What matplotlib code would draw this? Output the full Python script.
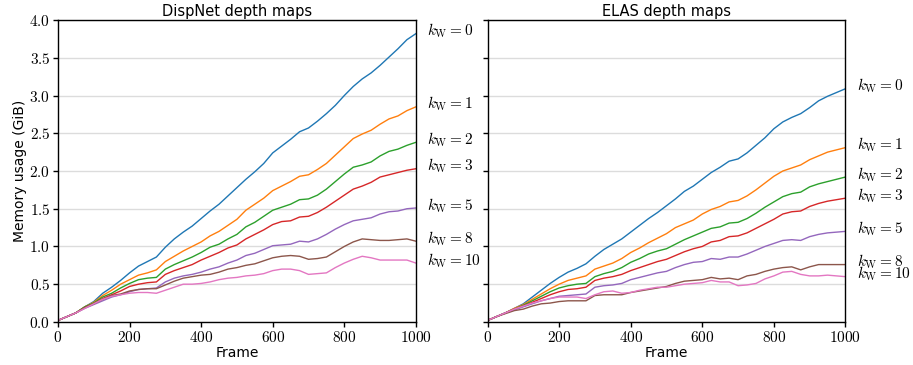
import numpy as np
import matplotlib
matplotlib.use("Agg")
import matplotlib.pyplot as plt
from matplotlib.ticker import FuncFormatter, MultipleLocator

plt.rcParams["font.family"] = ["DejaVu Sans"]
plt.rcParams["mathtext.fontset"] = "cm"

frames = np.arange(0, 1001, 25)
kw_values = [0, 1, 2, 3, 5, 8, 10]
colors = ["#1f77b4", "#ff7f0e", "#2ca02c", "#d62728", "#9467bd", "#8c564b", "#e377c2"]

# Memory usage (GiB) per frame, DispNet depth maps
dispnet_kw0 = [0.02, 0.07, 0.12, 0.20, 0.27, 0.38, 0.46, 0.55, 0.65, 0.74, 0.80, 0.86, 0.99, 1.10, 1.19, 1.27, 1.37, 1.47, 1.56, 1.67, 1.78,
               1.89, 1.99, 2.10, 2.24, 2.33, 2.42, 2.52, 2.57, 2.66, 2.76, 2.87, 3.00, 3.12, 3.22, 3.30, 3.40, 3.51, 3.62, 3.74, 3.82]
dispnet_kw1 = [0.02, 0.07, 0.12, 0.20, 0.26, 0.35, 0.42, 0.50, 0.56, 0.62, 0.65, 0.69, 0.80, 0.87, 0.94, 1.00, 1.06, 1.14, 1.20, 1.28, 1.36,
               1.48, 1.56, 1.64, 1.74, 1.80, 1.86, 1.93, 1.95, 2.02, 2.10, 2.21, 2.32, 2.43, 2.49, 2.54, 2.62, 2.69, 2.73, 2.80, 2.85]
dispnet_kw2 = [0.02, 0.07, 0.12, 0.20, 0.25, 0.33, 0.38, 0.45, 0.51, 0.56, 0.58, 0.59, 0.70, 0.76, 0.81, 0.86, 0.92, 0.99, 1.03, 1.10, 1.16,
               1.26, 1.32, 1.40, 1.48, 1.52, 1.56, 1.62, 1.63, 1.68, 1.76, 1.86, 1.96, 2.05, 2.08, 2.12, 2.20, 2.26, 2.29, 2.34, 2.38]
dispnet_kw3 = [0.02, 0.07, 0.12, 0.19, 0.24, 0.31, 0.36, 0.41, 0.47, 0.50, 0.52, 0.53, 0.63, 0.68, 0.72, 0.76, 0.82, 0.87, 0.92, 0.98, 1.02,
               1.10, 1.16, 1.22, 1.29, 1.33, 1.34, 1.39, 1.40, 1.45, 1.52, 1.60, 1.68, 1.76, 1.80, 1.85, 1.92, 1.95, 1.98, 2.01, 2.03]
dispnet_kw5 = [0.02, 0.07, 0.12, 0.18, 0.23, 0.28, 0.33, 0.36, 0.40, 0.43, 0.44, 0.45, 0.53, 0.58, 0.61, 0.63, 0.66, 0.70, 0.73, 0.78, 0.82,
               0.88, 0.91, 0.96, 1.01, 1.02, 1.03, 1.07, 1.06, 1.10, 1.16, 1.23, 1.29, 1.34, 1.36, 1.38, 1.43, 1.46, 1.47, 1.50, 1.51]
dispnet_kw8 = [0.02, 0.07, 0.12, 0.19, 0.24, 0.30, 0.35, 0.37, 0.41, 0.43, 0.44, 0.44, 0.49, 0.54, 0.58, 0.60, 0.62, 0.63, 0.66, 0.70, 0.72,
               0.75, 0.77, 0.81, 0.85, 0.87, 0.88, 0.87, 0.83, 0.84, 0.86, 0.93, 1.00, 1.06, 1.10, 1.09, 1.08, 1.08, 1.09, 1.10, 1.07]
dispnet_kw10 = [0.02, 0.07, 0.12, 0.18, 0.24, 0.30, 0.34, 0.36, 0.38, 0.39, 0.39, 0.38, 0.42, 0.46, 0.50, 0.50, 0.51, 0.53, 0.56, 0.58, 0.59,
                0.61, 0.62, 0.64, 0.68, 0.70, 0.70, 0.68, 0.63, 0.64, 0.65, 0.72, 0.78, 0.83, 0.87, 0.85, 0.82, 0.82, 0.82, 0.82, 0.78]

# Memory usage (GiB) per frame, ELAS depth maps
elas_kw0 = [0.02, 0.07, 0.12, 0.18, 0.24, 0.33, 0.42, 0.51, 0.59, 0.66, 0.71, 0.77, 0.87, 0.96, 1.03, 1.10, 1.19, 1.28, 1.37, 1.45, 1.54,
            1.63, 1.73, 1.80, 1.89, 1.98, 2.05, 2.13, 2.16, 2.24, 2.34, 2.44, 2.56, 2.65, 2.71, 2.76, 2.84, 2.93, 2.99, 3.04, 3.09]
elas_kw1 = [0.02, 0.07, 0.12, 0.18, 0.23, 0.30, 0.37, 0.44, 0.50, 0.55, 0.58, 0.61, 0.70, 0.74, 0.78, 0.84, 0.92, 0.98, 1.05, 1.11, 1.17,
            1.25, 1.30, 1.35, 1.43, 1.49, 1.53, 1.59, 1.61, 1.67, 1.75, 1.84, 1.93, 2.00, 2.04, 2.08, 2.15, 2.20, 2.25, 2.28, 2.31]
elas_kw2 = [0.02, 0.07, 0.12, 0.17, 0.22, 0.28, 0.34, 0.40, 0.45, 0.48, 0.50, 0.51, 0.60, 0.64, 0.67, 0.72, 0.79, 0.84, 0.90, 0.94, 0.97,
            1.03, 1.09, 1.14, 1.19, 1.24, 1.26, 1.31, 1.32, 1.37, 1.44, 1.52, 1.59, 1.66, 1.70, 1.72, 1.79, 1.83, 1.86, 1.89, 1.92]
elas_kw3 = [0.02, 0.07, 0.12, 0.17, 0.21, 0.26, 0.31, 0.36, 0.40, 0.43, 0.44, 0.46, 0.55, 0.58, 0.60, 0.63, 0.68, 0.72, 0.76, 0.80, 0.83,
            0.88, 0.93, 0.97, 1.00, 1.06, 1.08, 1.13, 1.14, 1.18, 1.24, 1.30, 1.36, 1.43, 1.46, 1.47, 1.53, 1.57, 1.60, 1.62, 1.64]
elas_kw5 = [0.02, 0.07, 0.12, 0.16, 0.20, 0.24, 0.28, 0.31, 0.34, 0.35, 0.36, 0.37, 0.46, 0.48, 0.49, 0.51, 0.56, 0.59, 0.62, 0.65, 0.67,
            0.72, 0.76, 0.79, 0.80, 0.84, 0.83, 0.86, 0.86, 0.90, 0.95, 1.00, 1.04, 1.08, 1.09, 1.08, 1.13, 1.16, 1.18, 1.19, 1.20]
elas_kw8 = [0.02, 0.07, 0.11, 0.15, 0.17, 0.21, 0.24, 0.25, 0.27, 0.28, 0.28, 0.28, 0.35, 0.36, 0.36, 0.36, 0.39, 0.41, 0.43, 0.45, 0.47,
            0.51, 0.54, 0.55, 0.56, 0.59, 0.57, 0.58, 0.56, 0.61, 0.63, 0.67, 0.70, 0.72, 0.73, 0.69, 0.73, 0.76, 0.76, 0.76, 0.76]
elas_kw10 = [0.02, 0.07, 0.12, 0.17, 0.21, 0.25, 0.28, 0.31, 0.33, 0.33, 0.33, 0.31, 0.36, 0.40, 0.41, 0.38, 0.39, 0.42, 0.44, 0.46, 0.46,
             0.48, 0.50, 0.51, 0.52, 0.55, 0.53, 0.53, 0.48, 0.49, 0.51, 0.57, 0.61, 0.66, 0.67, 0.63, 0.61, 0.61, 0.62, 0.61, 0.60]

panels = [
    ("DispNet depth maps", [dispnet_kw0, dispnet_kw1, dispnet_kw2, dispnet_kw3, dispnet_kw5, dispnet_kw8, dispnet_kw10]),
    ("ELAS depth maps", [elas_kw0, elas_kw1, elas_kw2, elas_kw3, elas_kw5, elas_kw8, elas_kw10]),
]

fig = plt.figure(figsize=(9.13, 3.65), dpi=100)
ax_left = fig.add_axes([0.0635, 0.118, 0.392, 0.827])
ax_right = fig.add_axes([0.534, 0.118, 0.392, 0.827], sharey=ax_left)

for ax, (title, series) in zip([ax_left, ax_right], panels):
    for kw, vals, c in zip(kw_values, series, colors):
        ax.plot(frames, vals, color=c, lw=1.0)
        ax.annotate(rf"$k_\mathrm{{W}} = {kw}$", xy=(frames[-1], vals[-1]),
                    xytext=(8, 2), textcoords="offset points",
                    va="center", ha="left", fontsize=11, annotation_clip=False)
    ax.set_title(title, fontsize=10.5, pad=3)
    ax.set_xlabel("Frame", fontsize=10, labelpad=1)
    ax.set_xlim(0, 1000)
    ax.set_ylim(0, 4.0)
    ax.xaxis.set_major_locator(MultipleLocator(200))
    ax.yaxis.set_major_locator(MultipleLocator(0.5))
    ax.xaxis.set_major_formatter(FuncFormatter(lambda v, _: rf"${v:.0f}$"))
    ax.yaxis.set_major_formatter(FuncFormatter(lambda v, _: rf"${v:.1f}$"))
    ax.grid(axis="y", color="#dcdcdc", lw=1.0)
    ax.set_axisbelow(True)
    ax.tick_params(direction="out", length=3.5, width=1.0, labelsize=11, pad=2)
    for sp in ax.spines.values():
        sp.set_linewidth(1.0)

ax_left.set_ylabel("Memory usage (GiB)", fontsize=10, labelpad=2)
ax_right.tick_params(axis="y", labelleft=False)

fig.savefig("out.png", dpi=100)
